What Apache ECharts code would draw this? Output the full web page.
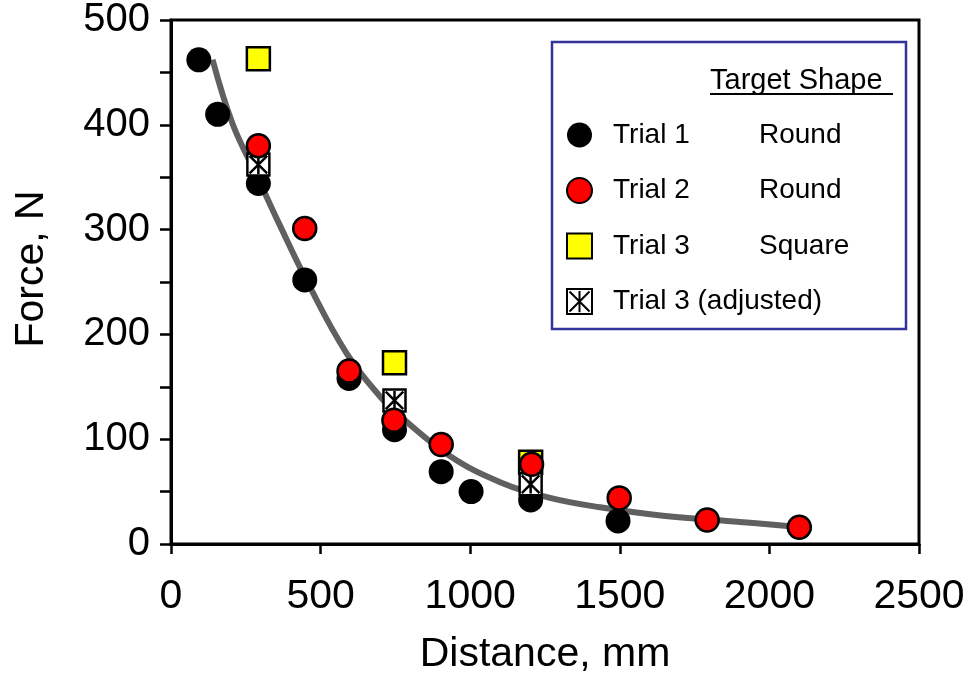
<!DOCTYPE html>
<html>
<head>
<meta charset="utf-8">
<script src="https://cdn.jsdelivr.net/npm/echarts@6/dist/echarts.min.js"></script>
<style>
html,body{margin:0;padding:0;background:#fff;}
#chart{width:969px;height:680px;}
</style>
</head>
<body>
<div id="chart"></div>
<script>
// ---- data ----
const trial1X = [93, 156, 292, 447, 595, 747, 903, 1003, 1202, 1494];
const trial1Y = [462, 410, 344, 252, 158, 109, 69, 50, 42, 22];
const trial2X = [292, 447, 595, 745, 903, 1205, 1498, 1792, 2100];
const trial2Y = [380, 301, 165, 118, 95, 76, 44, 23, 16];
const trial3X = [292, 747, 1202];
const trial3Y = [463, 173, 78];
const trial3AdjX = [292, 747, 1202];
const trial3AdjY = [362, 137, 57];
const fitX = [139, 207, 286, 364, 454, 587, 710, 765, 932, 1100, 1267, 1434, 1644, 1902, 2069];
const fitY = [462, 400, 352, 304, 251, 182, 137, 122, 84, 59, 44, 35, 27, 21, 17];
const seriesNames = ['Trial 1', 'Trial 2', 'Trial 3', 'Trial 3 (adjusted)'];
const targetShapes = ['Round', 'Round', 'Square', ''];
const xTicks = [0, 500, 1000, 1500, 2000, 2500];
const yTicks = [0, 100, 200, 300, 400, 500];

const FONT = 'Liberation Sans, Arial, Helvetica, sans-serif';
const zip = (xs, ys) => xs.map((x, i) => [x, ys[i]]);

const adjSymbol = 'path://M0,0L20,0L20,20L0,20Z M2,2L18,18 M18,2L2,18 M10,1.5L10,18.5';

const chart = echarts.init(document.getElementById('chart'), null, {renderer: 'canvas'});
chart.setOption({
  backgroundColor: '#fff',
  animation: false,
  textStyle: {fontFamily: FONT},
  grid: {left: 171, right: 50, top: 17, bottom: 135, show: true, borderColor: '#000', borderWidth: 3},
  xAxis: {
    type: 'value', min: xTicks[0], max: xTicks[xTicks.length - 1], interval: 500,
    name: 'Distance, mm', nameLocation: 'middle', nameGap: 90,
    nameTextStyle: {fontSize: 41, color: '#000', fontFamily: FONT},
    axisLine: {lineStyle: {color: '#000', width: 3}},
    axisTick: {inside: false, length: 10, lineStyle: {color: '#000', width: 2.5}},
    axisLabel: {fontSize: 41, color: '#000', margin: 32, fontFamily: FONT,
                formatter: v => String(v)},
    splitLine: {show: false}
  },
  yAxis: {
    type: 'value', min: yTicks[0], max: yTicks[yTicks.length - 1], interval: 100,
    name: 'Force, N', nameLocation: 'middle', nameGap: 119,
    nameTextStyle: {fontSize: 41, color: '#000', fontFamily: FONT, padding: [0, 0, 0, 26]},
    axisLine: {lineStyle: {color: '#000', width: 3}},
    axisTick: {inside: false, length: 11, lineStyle: {color: '#000', width: 2.5}},
    minorTick: {show: true, splitNumber: 2, length: 11, lineStyle: {color: '#000', width: 2.5}},
    axisLabel: {fontSize: 40, color: '#000', margin: 21, fontFamily: FONT,
                formatter: v => String(v)},
    splitLine: {show: false}
  },
  graphic: [
    {type: 'rect', z: 1, shape: {x: 552, y: 42, width: 354, height: 287},
     style: {fill: '#fff', stroke: '#333399', lineWidth: 2.5}},
    {type: 'text', z: 2, x: 710, y: 66,
     style: {text: 'Target Shape', font: '29px ' + FONT, fill: '#000', textVerticalAlign: 'top'}},
    {type: 'line', z: 2, shape: {x1: 710, y1: 94, x2: 893, y2: 94},
     style: {stroke: '#000', lineWidth: 2}}
  ],
  legend: {
    data: seriesNames,
    orient: 'vertical', left: 566, top: 121, padding: 0,
    itemWidth: 25, itemHeight: 25, itemGap: 27.5, z: 5,
    formatter: function (name) {
      const s = targetShapes[seriesNames.indexOf(name)];
      return s ? '{n|' + name + '}{s|' + s + '}' : '{w|' + name + '}';
    },
    textStyle: {
      color: '#000', fontSize: 28, fontFamily: FONT,
      rich: {
        n: {fontSize: 28, width: 146, padding: [0, 0, 0, 16], lineHeight: 25, fontFamily: FONT, color: '#000'},
        s: {fontSize: 28, lineHeight: 25, fontFamily: FONT, color: '#000'},
        w: {fontSize: 28, padding: [0, 0, 0, 16], lineHeight: 25, fontFamily: FONT, color: '#000'}
      }
    }
  },
  series: [
    {name: 'fit', type: 'line', data: zip(fitX, fitY), smooth: 0.4, showSymbol: false, silent: true,
     lineStyle: {color: '#606060', width: 6}, z: 1},
    {name: seriesNames[0], type: 'scatter', data: zip(trial1X, trial1Y), symbol: 'circle', symbolSize: 25,
     itemStyle: {color: '#000', opacity: 1}, z: 2},
    {name: seriesNames[2], type: 'scatter', data: zip(trial3X, trial3Y), symbol: 'rect', symbolSize: 23,
     itemStyle: {color: '#ffff00', borderColor: '#000', borderWidth: 2.5, opacity: 1}, z: 3},
    {name: seriesNames[3], type: 'scatter', data: zip(trial3AdjX, trial3AdjY), symbol: adjSymbol, symbolSize: 22,
     itemStyle: {color: '#fff', borderColor: '#000', borderWidth: 2.5, opacity: 1}, z: 4},
    {name: seriesNames[1], type: 'scatter', data: zip(trial2X, trial2Y), symbol: 'circle', symbolSize: 23,
     itemStyle: {color: '#ff0000', borderColor: '#000', borderWidth: 2.5, opacity: 1}, z: 5}
  ]
});
</script>
</body>
</html>
